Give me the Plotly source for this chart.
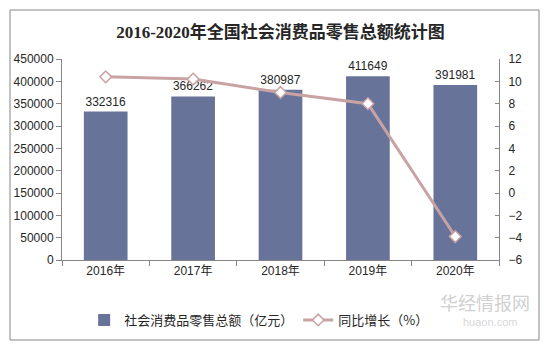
import plotly.graph_objects as go

years = ["2016年", "2017年", "2018年", "2019年", "2020年"]
sales = [332316, 366262, 380987, 411649, 391981]
growth = [10.4, 10.2, 9.0, 8.0, -3.9]
left_ticks = [0, 50000, 100000, 150000, 200000, 250000, 300000, 350000, 400000, 450000]
right_ticks = [-6, -4, -2, 0, 2, 4, 6, 8, 10, 12]

FONT = "Liberation Sans, Arial, Noto Sans CJK SC, sans-serif"

fig = go.Figure()
fig.add_trace(go.Bar(
    x=years, y=sales, name="社会消费品零售总额（亿元）",
    marker=dict(color="#68739A", line=dict(width=0)),
    text=[str(v) for v in sales], textposition="outside",
    textfont=dict(size=12, color="#262626", family=FONT),
    cliponaxis=False,
))
fig.add_trace(go.Scatter(
    x=years, y=growth, name="同比增长（%）", yaxis="y2",
    mode="lines+markers",
    line=dict(color="#C9A2A4", width=3),
    marker=dict(symbol="diamond", size=9, color="white", line=dict(color="#C9A2A4", width=1.5)),
    cliponaxis=False,
))

# plot area: x 62..500, y 59..260
x0, x1, y0, y1 = 62, 499, 59, 260
W, H = x1 - x0, y1 - y0
def px(x): return (x - x0) / W
def py(y): return (y1 - y) / H

fig.update_layout(
    width=549, height=350,
    margin=dict(l=x0, r=549 - x1, t=y0, b=350 - y1),
    paper_bgcolor="white", plot_bgcolor="white",
    font=dict(family=FONT, size=12, color="#262626"),
    title=dict(text="<b>2016-2020年全国社会消费品零售总额统计图</b>",
               font=dict(family="Liberation Serif, Noto Sans CJK SC, serif", size=17, color="#262626"),
               x=0.5, xanchor="center", xref="paper", y=1 - 32 / 350, yanchor="middle", yref="container"),
    bargap=0.5,
    showlegend=True,
    legend=dict(orientation="h", x=0.45, xanchor="center", y=py(320), yanchor="middle",
                font=dict(size=13, color="#262626", family="Noto Sans CJK SC, sans-serif"),
                itemwidth=30, traceorder="normal", bgcolor="rgba(0,0,0,0)"),
    xaxis=dict(type="category", showline=True, linecolor="#868686", linewidth=1,
               ticks="outside", tickson="boundaries", ticklen=5, tickcolor="#868686",
               tickfont=dict(size=12, color="#262626"), showgrid=False, zeroline=False),
    yaxis=dict(range=[0, 450000], tickvals=left_ticks, ticktext=[str(v) for v in left_ticks],
               showline=True, linecolor="#868686", linewidth=1, ticks="outside", ticklen=5,
               tickcolor="#868686", showgrid=False, zeroline=False,
               tickfont=dict(size=12, color="#262626")),
    yaxis2=dict(range=[-6, 12], tickvals=right_ticks, overlaying="y", side="right",
                showline=True, linecolor="#868686", linewidth=1, ticks="inside", ticklen=4,
                tickcolor="#868686", showgrid=False, zeroline=False, ticklabelstandoff=6,
                tickfont=dict(size=12, color="#262626")),
    shapes=[dict(type="rect", xref="paper", yref="paper",
                 x0=px(10), x1=px(539), y0=py(340), y1=py(10),
                 line=dict(color="#868686", width=1), fillcolor="rgba(0,0,0,0)", layer="below")],
    annotations=[
        dict(text="华经情报网", xref="paper", yref="paper", x=px(485), y=py(302),
             showarrow=False, font=dict(size=18, color="#D0D0D0", family="Noto Sans CJK SC"),
             xanchor="center", yanchor="middle"),
        dict(text="huaon.com", xref="paper", yref="paper", x=px(490), y=py(322),
             showarrow=False, font=dict(size=11, color="#D8D8D8"),
             xanchor="center", yanchor="middle"),
    ],
)

fig.write_html("out.html")
